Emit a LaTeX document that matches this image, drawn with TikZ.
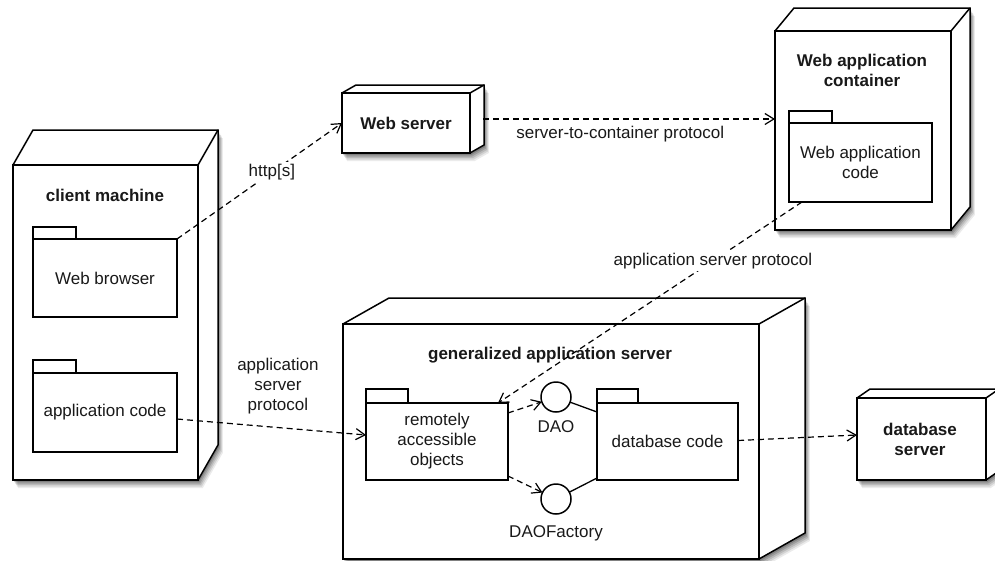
\documentclass[tikz,border=0pt]{standalone}
\usepackage{fontspec}
\setmainfont{Liberation Sans}
\usetikzlibrary{arrows.meta}
\newcommand\threed[3]{% node name, depth dx, depth dy
  \foreach \s/\o in {8/0.08,6.5/0.1,5/0.12,3.5/0.15,2/0.18}{%
    \fill[black,opacity=\o]
      ([shift={(0.6*\s,-\s)}]#1.south west) -- ([shift={(0.6*\s,-\s)}]#1.north west)
      -- ([shift={(0.6*\s+#2,-\s+#3)}]#1.north west) -- ([shift={(0.6*\s+#2,-\s+#3)}]#1.north east)
      -- ([shift={(0.6*\s+#2,-\s+#3)}]#1.south east) -- ([shift={(0.6*\s,-\s)}]#1.south east) -- cycle;}
  \fill[white] (#1.south west) -- (#1.north west) -- ([shift={(#2,#3)}]#1.north west)
      -- ([shift={(#2,#3)}]#1.north east) -- ([shift={(#2,#3)}]#1.south east) -- (#1.south east) -- cycle;
  \draw[shp] (#1.north west) -- ([shift={(#2,#3)}]#1.north west) -- ([shift={(#2,#3)}]#1.north east)
      -- ([shift={(#2,#3)}]#1.south east) -- (#1.south east);
  \draw[shp] (#1.north east) -- ([shift={(#2,#3)}]#1.north east);
  \draw[shp] (#1.south west) rectangle (#1.north east);
}
\begin{document}
\begin{tikzpicture}[x=1pt,y=1pt,
  every node/.style={font=\fontsize{17}{20}\selectfont, inner sep=0pt, outer sep=0pt, text=black!90},
  shp/.style={line width=1.5pt, line join=miter},
  cube/.style={rectangle, minimum width=#1},
  pkg/.style={rectangle, draw, fill=white, line width=1.5pt, align=center},
  ttl/.style={font=\fontsize{17}{20}\selectfont\bfseries, align=center},
  iface/.style={circle, draw, fill=white, line width=1.5pt, minimum size=30pt},
  dep/.style={line width=1.2pt, dash pattern=on 6pt off 4pt, -{Straight Barb[length=9pt,width=11pt]}},
  lbl/.style={fill=white, inner sep=2pt, align=center}
]
\useasboundingbox (0,0) rectangle (995,-560);

% 3D nodes (front faces)
\node[cube=185pt, minimum height=315pt] (client) at (105.5,-322.5) {};
\threed{client}{20}{35}
\node[cube=128pt, minimum height=60pt] (websrv) at (406,-123) {};
\threed{websrv}{14}{8}
\node[cube=176pt, minimum height=199pt] (container) at (863,-130.5) {};
\threed{container}{19}{23}
\node[cube=416pt, minimum height=235pt] (appsrv) at (551,-441.5) {};
\threed{appsrv}{46}{26}
\node[cube=129pt, minimum height=82pt] (dbsrv) at (921.5,-439) {};
\threed{dbsrv}{13}{9}

% titles
\node[ttl] (clientT) at (105,-195) {client machine};
\node[ttl] (websrvT) at (406,-123) {Web server};
\node[ttl] (containerT) at (862,-70) {Web application\\container};
\node[ttl] (appsrvT) at (550,-355) {generalized application server};
\node[ttl] (dbsrvT) at (920,-439) {database\\server};

% packages
\node[pkg, minimum width=144pt, minimum height=78pt] (browser) at (105,-278) {Web browser};
\draw[shp] (browser.north west) rectangle ++(43,12);
\node[pkg, minimum width=144pt, minimum height=79pt] (appcode) at (105,-412.5) {application code};
\draw[shp] (appcode.north west) rectangle ++(43,13);
\node[pkg, minimum width=143pt, minimum height=79pt] (webcode) at (860.5,-162.5) {Web application\\code};
\draw[shp] (webcode.north west) rectangle ++(43,12);
\node[pkg, minimum width=142pt, minimum height=77pt] (remote) at (437,-441.5) {remotely\\accessible\\objects};
\draw[shp] (remote.north west) rectangle ++(42,14);
\node[pkg, minimum width=141pt, minimum height=77pt] (dbcode) at (667.5,-441.5) {database code};
\draw[shp] (dbcode.north west) rectangle ++(41,14);

% interfaces
\node[iface] (dao) at (556,-397) {};
\node (daoT) at (556,-427) {DAO};
\node[iface] (daof) at (556,-499) {};
\node (daofT) at (556,-533) {DAOFactory};

% realisation lines
\draw[line width=1.3pt] (dao) -- ([yshift=-9pt]dbcode.north west);
\draw[line width=1.3pt] (daof) -- ([yshift=2pt]dbcode.south west);

% dependencies
\draw[dep] (browser.north east) -- node[lbl, pos=0.575] {http[s]} (websrv.west);
\draw[dep] ([shift={(13,4)}]websrv.east) -- node[pos=0.47, yshift=-15pt] {server-to-container protocol} ([yshift=11.5pt]container.west);
\draw[dep] ([xshift=-58.5pt]webcode.south) -- node[lbl, pos=0.293] {application server protocol} ([xshift=-10pt]remote.north east);
\draw[dep] ([yshift=-6.5pt]appcode.east) -- node[pos=0.534, yshift=41.5pt, align=center] {application\\server\\protocol} ([yshift=6.5pt]remote.west);
\draw[dep] ([yshift=-10pt]remote.north east) -- (dao);
\draw[dep] ([yshift=4pt]remote.south east) -- (daof);
\draw[dep] ([yshift=1pt]dbcode.east) -- ([yshift=4pt]dbsrv.west);
\end{tikzpicture}
\end{document}
